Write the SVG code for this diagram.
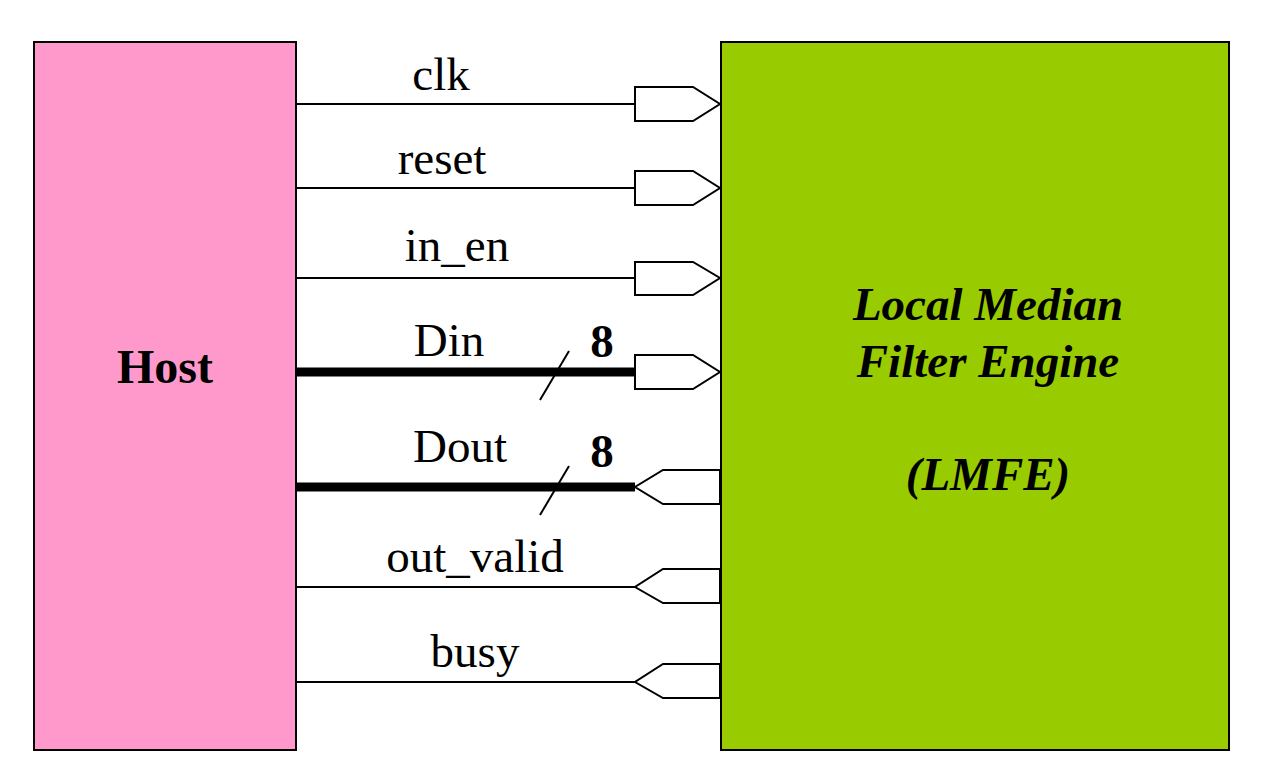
<svg xmlns="http://www.w3.org/2000/svg" width="1266" height="782" viewBox="0 0 1266 782">
<style>
.lbl{font-family:"Liberation Serif","Times New Roman",serif;font-size:47px;fill:#000;text-anchor:middle}
.bold{font-weight:bold}
.bi{font-family:"Liberation Serif","Times New Roman",serif;font-size:47px;font-weight:bold;font-style:italic;text-anchor:middle;fill:#000}
.w{stroke:#000;stroke-width:2;fill:none}
.bus{stroke:#000;stroke-width:9;fill:none}
.port{fill:#fff;stroke:#000;stroke-width:2}
</style>
<rect width="1266" height="782" fill="#fff"/>
<g id="host">
<rect x="34" y="42" width="262" height="708" fill="#FF99CC" stroke="#000" stroke-width="2"/>
<text class="lbl bold" x="165" y="383" style="font-size:48px">Host</text>
</g>
<g id="lmfe">
<rect x="721" y="42" width="508" height="708" fill="#99CC00" stroke="#000" stroke-width="2"/>
<text class="bi" x="988" y="320">Local Median</text>
<text class="bi" x="988" y="377">Filter Engine</text>
<text class="bi" x="988" y="490">(LMFE)</text>
</g>
<g id="connectors">
<line class="w" x1="296" y1="104" x2="635" y2="104"/>
<path class="port" d="M635,87 H693 L720,104 L693,121 H635 Z"/>
<text class="lbl" x="441" y="90">clk</text>

<line class="w" x1="296" y1="188" x2="635" y2="188"/>
<path class="port" d="M635,171 H693 L720,188 L693,205 H635 Z"/>
<text class="lbl" x="442" y="174">reset</text>

<line class="w" x1="296" y1="278" x2="635" y2="278"/>
<path class="port" d="M635,262 H693 L720,278 L693,295 H635 Z"/>
<text class="lbl" x="457" y="261">in_en</text>

<line class="bus" x1="296" y1="372" x2="635" y2="372"/>
<path class="port" d="M635,355 H693 L720,372 L693,389 H635 Z"/>
<line class="w" x1="540" y1="400" x2="569" y2="351"/>
<text class="lbl" x="449" y="356">Din</text>
<text class="lbl bold" x="602" y="357">8</text>

<line class="bus" x1="296" y1="487" x2="635" y2="487"/>
<path class="port" d="M720,470 H663 L635,487 L663,504 H720 Z"/>
<line class="w" x1="540" y1="515" x2="569" y2="466"/>
<text class="lbl" x="460" y="462">Dout</text>
<text class="lbl bold" x="602" y="467">8</text>

<line class="w" x1="296" y1="587" x2="635" y2="587"/>
<path class="port" d="M720,569 H663 L635,587 L663,603 H720 Z"/>
<text class="lbl" x="475" y="572">out_valid</text>

<line class="w" x1="296" y1="682" x2="635" y2="682"/>
<path class="port" d="M720,664 H663 L635,682 L663,698 H720 Z"/>
<text class="lbl" x="475" y="667">busy</text>
</g>
</svg>
